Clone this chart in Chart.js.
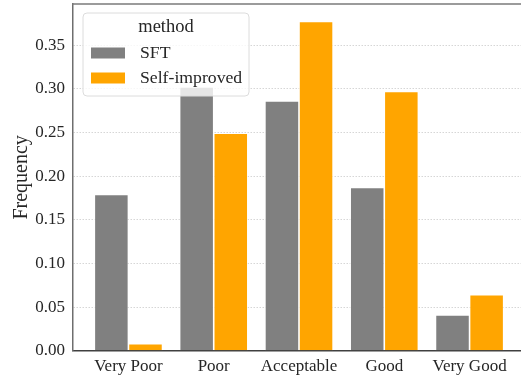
<!DOCTYPE html>
<html>
<head>
<meta charset="utf-8">
<script src="https://cdn.jsdelivr.net/npm/chart.js@4.4.0/dist/chart.umd.min.js"></script>
<style>
  html, body { margin: 0; padding: 0; overflow: hidden; background: #fff; }
  #wrap { width: 526px; height: 378px; position: relative; }
</style>
</head>
<body>
<div id="wrap"><canvas id="c"></canvas></div>
<script>
const categories = ["Very Poor", "Poor", "Acceptable", "Good", "Very Good"];
const sftValues = [0.179, 0.302, 0.286, 0.187, 0.041];
const selfImprovedValues = [0.008, 0.249, 0.377, 0.297, 0.064];
const seriesNames = ["SFT", "Self-improved"];
const legendTitle = "method";
const yTickValues = [0, 0.05, 0.10, 0.15, 0.20, 0.25, 0.30, 0.35];

const SERIF = "'Liberation Serif', 'Times New Roman', serif";
const TEXT = '#262626';

const legendPlugin = {
  id: 'customLegend',
  afterDatasetsDraw(chart) {
    const ctx = chart.ctx;
    const ca = chart.chartArea;
    const x = ca.left + 10, y = ca.top + 9, w = 166, h = 83, r = 4;
    ctx.save();
    ctx.beginPath();
    ctx.roundRect(x, y, w, h, r);
    ctx.fillStyle = 'rgba(255,255,255,0.8)';
    ctx.fill();
    ctx.strokeStyle = '#dcdcdc';
    ctx.lineWidth = 1;
    ctx.stroke();
    ctx.fillStyle = TEXT;
    ctx.font = '18.5px ' + SERIF;
    ctx.textBaseline = 'middle';
    ctx.textAlign = 'center';
    ctx.fillText(legendTitle, x + w / 2, y + 14);
    ctx.font = '17.7px ' + SERIF;
    ctx.textAlign = 'left';
    chart.data.datasets.forEach((ds, i) => {
      const rowY = y + 40 + i * 25;
      ctx.fillStyle = ds.backgroundColor;
      ctx.fillRect(x + 8, rowY - 5.5, 34, 11);
      ctx.fillStyle = TEXT;
      ctx.fillText(ds.label, x + 57, rowY);
    });
    ctx.restore();
  }
};

const topSpinePlugin = {
  id: 'topSpine',
  afterDraw(chart) {
    const ctx = chart.ctx;
    const ca = chart.chartArea;
    ctx.save();
    ctx.strokeStyle = '#7a7a7a';
    ctx.lineWidth = 1.5;
    ctx.beginPath();
    ctx.moveTo(ca.left - 0.75, ca.top);
    ctx.lineTo(ca.right, ca.top);
    ctx.stroke();
    ctx.restore();
  }
};

new Chart(document.getElementById('c'), {
  type: 'bar',
  data: {
    datasets: [
      {
        label: seriesNames[0],
        data: sftValues.map((v, i) => ({ x: i, y: v })),
        backgroundColor: '#808080',
        borderColor: '#ffffff',
        borderWidth: 0.8
      },
      {
        label: seriesNames[1],
        data: selfImprovedValues.map((v, i) => ({ x: i, y: v })),
        backgroundColor: '#FFA500',
        borderColor: '#ffffff',
        borderWidth: 0.8
      }
    ]
  },
  options: {
    responsive: true,
    maintainAspectRatio: false,
    animation: false,
    devicePixelRatio: 1,
    categoryPercentage: 0.8,
    barPercentage: 1.0,
    layout: { padding: { top: 4, right: 1, left: 0, bottom: 0 } },
    plugins: {
      legend: { display: false },
      tooltip: { enabled: false }
    },
    scales: {
      x: {
        type: 'linear',
        min: -0.65,
        max: 4.65,
        offset: false,
        grid: { display: false, offset: false, drawTicks: false },
        border: { display: true, color: '#404040', width: 1.5 },
        afterBuildTicks(scale) {
          scale.ticks = categories.map((_, i) => ({ value: i }));
        },
        afterFit(scale) {
          scale.height = 378 - 350.7;
          scale.paddingLeft = 0; scale.paddingRight = 0;
        },
        ticks: {
          autoSkip: false,
          maxRotation: 0,
          padding: 6,
          color: TEXT,
          font: { family: SERIF, size: 17 },
          callback: (v) => categories[v]
        }
      },
      y: {
        min: 0,
        max: 0.397,
        afterBuildTicks(scale) {
          scale.ticks = yTickValues.map(v => ({ value: v }));
        },
        afterFit(scale) {
          scale.width = 73;
          scale.paddingTop = 0; scale.paddingBottom = 0;
        },
        grid: {
          color: '#d6d6d6',
          lineWidth: 1,
          drawTicks: false
        },
        border: { display: true, color: '#6e6e6e', width: 1.5, dash: [1.5, 1.5] },
        ticks: {
          padding: 8,
          color: TEXT,
          font: { family: SERIF, size: 17 },
          callback: (v) => Number(v).toFixed(2)
        },
        title: {
          display: true,
          text: 'Frequency',
          color: TEXT,
          font: { family: SERIF, size: 20 },
          padding: { top: 10, bottom: 0 }
        }
      }
    }
  },
  plugins: [legendPlugin, topSpinePlugin]
});
</script>
</body>
</html>
